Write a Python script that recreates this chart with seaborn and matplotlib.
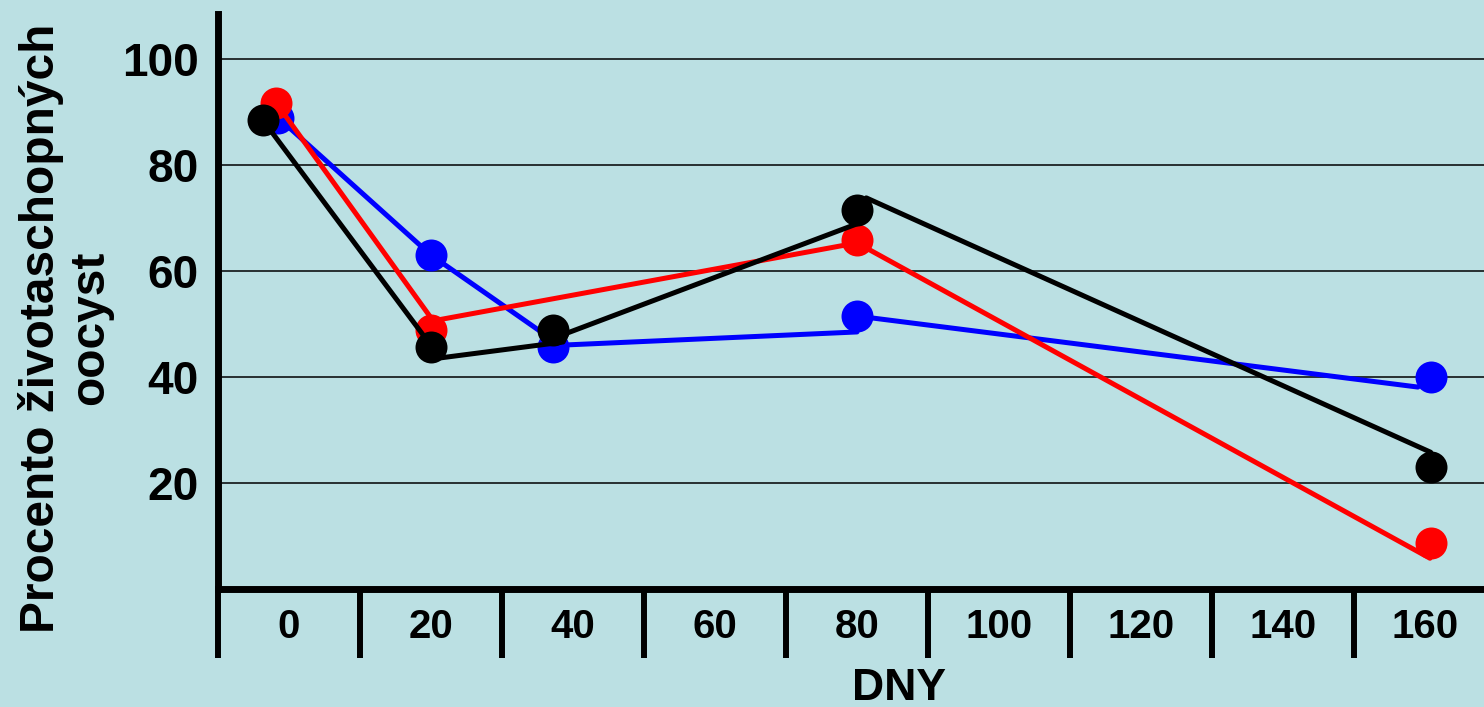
import numpy as np
import pandas as pd
import matplotlib
matplotlib.use("Agg")
import matplotlib.pyplot as plt
import seaborn as sns

# ---- data ----
day_labels = [0, 20, 40, 60, 80, 100, 120, 140, 160]
y_ticks = [20, 40, 60, 80, 100]

blue_marker_x = [-1.5, 20, 37.2, 80, 160.8]
blue_marker_y = [88.9, 63.0, 45.7, 51.5, 40.0]
blue_line_x = [-1.5, 20, 38.2, 80, 80, 159]
blue_line_y = [88.9, 63.0, 46.0, 48.5, 51.5, 38.1]

red_marker_x = [-1.8, 20, 80, 160.8]
red_marker_y = [91.7, 48.9, 65.8, 8.7]
red_line_x = [-1.8, 20.3, 80, 160.7]
red_line_y = [91.7, 50.6, 65.3, 5.8]

black_marker_x = [-3.7, 20, 37.2, 80, 160.8]
black_marker_y = [88.5, 45.7, 48.9, 71.5, 23.0]
black_line_x = [-3.7, 21.3, 38.6, 39.2, 80.4, 81.3, 160.8]
black_line_y = [88.5, 43.6, 46.6, 48.3, 69.1, 73.8, 25.8]

series = [
    ("#0000FF", blue_line_x, blue_line_y, blue_marker_x, blue_marker_y),
    ("#FF0000", red_line_x, red_line_y, red_marker_x, red_marker_y),
    ("#000000", black_line_x, black_line_y, black_marker_x, black_marker_y),
]

bg = "#BBE0E3"
sns.set_style("white")
plt.rcParams["font.family"] = ["Liberation Sans", "DejaVu Sans"]
plt.rcParams["font.weight"] = "bold"
plt.rcParams["text.color"] = "black"
plt.rcParams["axes.labelcolor"] = "black"
plt.rcParams["xtick.color"] = "black"
plt.rcParams["ytick.color"] = "black"

W, H = 1484, 707
fig = plt.figure(figsize=(W / 100, H / 100), dpi=100, facecolor=bg)
ax = fig.add_axes([218 / W, 118 / H, 1362 / W, 575 / H])
ax.set_facecolor(bg)

for i, (col, lx, ly, mx, my) in enumerate(series):
    ldf = pd.DataFrame({"x": lx, "y": ly})
    mdf = pd.DataFrame({"x": mx, "y": my})
    sns.lineplot(data=ldf, x="x", y="y", sort=False, estimator=None,
                 color=col, linewidth=3.6, ax=ax, zorder=3 + 2 * i)
    sns.scatterplot(data=mdf, x="x", y="y", color=col, s=530,
                    linewidth=0, ax=ax, zorder=4 + 2 * i)

ax.set_xlim(-10, -10 + 1362 / 7.1)
ax.set_ylim(0, 575 / 5.3)

# y axis
ax.set_yticks(y_ticks)
ax.set_yticklabels([str(v) for v in y_ticks], fontsize=33, fontweight="bold",
                   color="black")
ax.tick_params(axis="y", left=False, length=0, pad=14)
ax.yaxis.grid(True, color="black", linewidth=1.1)
ax.set_axisbelow(True)

# x axis: separators as major ticks, labels on minor ticks
ax.set_xticks(np.arange(-10, 190, 20))
ax.set_xticklabels([])
ax.set_xticks(day_labels, minor=True)
ax.set_xticklabels([str(v) for v in day_labels], minor=True,
                   fontsize=29, fontweight="bold", color="black")
ax.tick_params(axis="x", which="major", bottom=True, length=50, width=4.3,
               direction="out", color="black")
ax.tick_params(axis="x", which="minor", bottom=True, length=0, pad=14)

for s in ["top", "right"]:
    ax.spines[s].set_visible(False)
for s in ["left", "bottom"]:
    ax.spines[s].set_linewidth(5)
    ax.spines[s].set_color("black")

ax.set_xlabel("DNY", fontsize=32, fontweight="bold", va="top", color="black")
ax.xaxis.set_label_coords(0.5, (589 - 668) / 575)
ax.set_ylabel("Procento životaschopných\noocyst", fontsize=34.5,
              fontweight="bold", va="center", linespacing=1.12, color="black")
ax.yaxis.set_label_coords((66 - 218) / 1362, (589 - 328) / 575)

fig.savefig("out.png", dpi=100, facecolor=bg)
